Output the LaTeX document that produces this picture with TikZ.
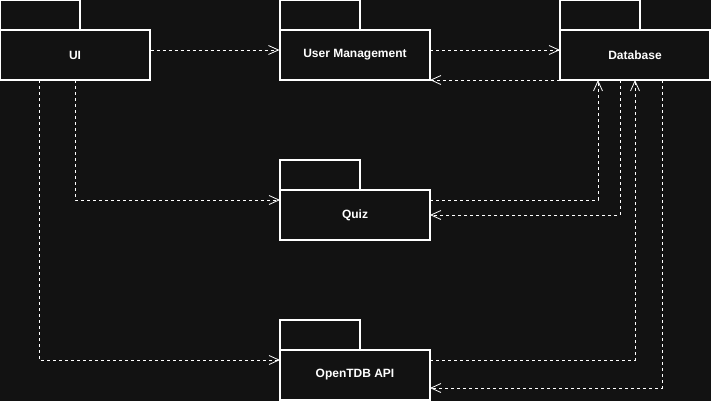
\documentclass[tikz,border=0pt]{standalone}
\usepackage{fontspec}
\setmainfont{Liberation Sans}
\usetikzlibrary{arrows.meta}
\definecolor{bg}{HTML}{121212}
\begin{document}
\begin{tikzpicture}[x=0.75pt,y=-0.75pt,
  pkgbody/.style={draw=white,line width=0.9pt,fill=bg,minimum width=112.5pt,minimum height=37.5pt,inner sep=0pt,
    font=\fontsize{9}{11}\selectfont\bfseries,text=white},
  pkgtab/.style={draw=white,line width=0.9pt,fill=bg,minimum width=60pt,minimum height=22.5pt,inner sep=0pt},
  dep/.style={draw=white,line width=0.6pt,dash pattern=on 2.25pt off 2.25pt,
    -{Straight Barb[length=7.5pt,width=6.75pt,line width=0.6pt]}}]
\fill[bg] (0,0) rectangle (711,401);
\useasboundingbox (0,0) rectangle (711,401);
% packages
\node[pkgtab] (uit) at (40,15) {};
\node[pkgbody] (ui) at (75,55) {UI};
\node[pkgtab] (umt) at (320,15) {};
\node[pkgbody] (um) at (355,55) {User Management};
\node[pkgtab] (dbt) at (600,15) {};
\node[pkgbody] (db) at (635,55) {Database};
\node[pkgtab] (qzt) at (320,175) {};
\node[pkgbody] (qz) at (355,215) {Quiz};
\node[pkgtab] (apit) at (320,335) {};
\node[pkgbody] (api) at (355,375) {OpenTDB API};
% anchors
\coordinate (ui1) at (75,80);
\coordinate (ui2) at (39,80);
\coordinate (qzin) at (280,200);
\coordinate (apiin) at (280,360);
\coordinate (umout) at (430,50);
\coordinate (umin) at (430,80);
\coordinate (dbin1) at (560,50);
\coordinate (dbout1) at (560,80);
\coordinate (qzout) at (430,200);
\coordinate (qzin2) at (430,215);
\coordinate (dbq1) at (598,80);
\coordinate (dbq2) at (620,80);
\coordinate (apiout) at (430,360);
\coordinate (apiin2) at (430,388);
\coordinate (dba1) at (635,80);
\coordinate (dba2) at (662,80);
% connectors
\draw[dep] (ui.east |- 0,50) -- (um.west |- 0,50);
\draw[dep] (umout) -- (dbin1);
\draw[dep] (dbout1) -- (umin);
\draw[dep] (ui1) |- (qzin);
\draw[dep] (ui2) |- (apiin);
\draw[dep] (qzout) -| (dbq1);
\draw[dep] (dbq2) |- (qzin2);
\draw[dep] (apiout) -| (dba1);
\draw[dep] (dba2) |- (apiin2);
\end{tikzpicture}
\end{document}
